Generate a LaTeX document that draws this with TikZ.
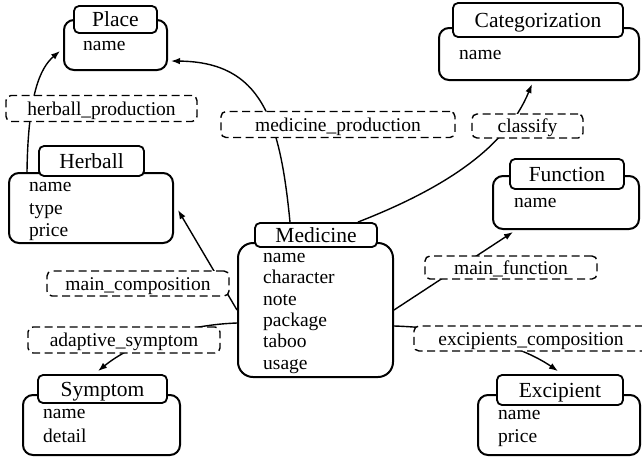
\documentclass[tikz,border=0pt]{standalone}
\usepackage{fontspec}
\setmainfont{Liberation Serif}
\usetikzlibrary{arrows.meta,calc}
\begin{document}
\begin{tikzpicture}[x=1pt,y=-1pt,
  entbody/.style={draw, line width=2pt, rounded corners=10pt, fill=white, inner sep=0pt},
  enttitle/.style={draw, line width=1.8pt, rounded corners=5pt, fill=white, inner sep=0pt,
    text height=14.7pt, text depth=0pt, font=\fontsize{21.5}{24}\selectfont},
  % anchored at the baseline of the last attribute line
  attrs/.style={anchor=base west, inner sep=0pt, align=left},
  relbox/.style={draw, dash pattern=on 8pt off 4.5pt, line width=1.4pt, rounded corners=5pt,
    fill=white, inner sep=0pt, minimum height=26pt, text height=13.3pt, text depth=0pt,
    font=\fontsize{19.5}{21}\selectfont},
  link/.style={line width=1.4pt},
  arr/.style={link, -{Latex[length=9pt,width=6.5pt]}}
]
\useasboundingbox (0,0) rectangle (642,461);

% ---- entities: body, title tab, attribute list ----
% Place
\node[entbody, minimum width=103pt, minimum height=50pt] (placeB) at (115.5,45) {};
\node[enttitle, minimum width=83pt, minimum height=27pt] (placeT) at (115.5,19.5) {Place};
\node[attrs, font=\fontsize{19.5}{22.5}\selectfont] (placeA) at (83,50.5) {name};

% Herball
\node[entbody, minimum width=164pt, minimum height=70pt] (herB) at (91,208) {};
\node[enttitle, minimum width=105pt, minimum height=30pt] (herT) at (91.5,161) {Herball};
\node[attrs, font=\fontsize{19.5}{22.5}\selectfont] (herA) at (29,236.5) {name\\type\\price};

% Categorization
\node[entbody, minimum width=200pt, minimum height=52pt] (catB) at (539,54) {};
\node[enttitle, minimum width=170pt, minimum height=34pt] (catT) at (538,20) {Categorization};
\node[attrs, font=\fontsize{19.5}{22.5}\selectfont] (catA) at (459,59.5) {name};

% Function
\node[entbody, minimum width=146pt, minimum height=53pt] (funB) at (566,202.5) {};
\node[enttitle, minimum width=114pt, minimum height=30pt] (funT) at (567,174) {Function};
\node[attrs, font=\fontsize{19.5}{22.5}\selectfont] (funA) at (514,207.5) {name};

% Medicine
\node[entbody, rounded corners=15pt, minimum width=155pt, minimum height=134pt] (medB) at (315.5,310) {};
\node[enttitle, minimum width=122pt, minimum height=24pt] (medT) at (316,235) {Medicine};
\node[attrs, font=\fontsize{19.5}{21.3}\selectfont] (medA) at (263,369)
  {name\\character\\note\\package\\taboo\\usage};

% Symptom
\node[entbody, minimum width=157pt, minimum height=60pt] (symB) at (101.5,425) {};
\node[enttitle, minimum width=129pt, minimum height=28pt] (symT) at (102.5,389) {Symptom};
\node[attrs, font=\fontsize{19.5}{24}\selectfont] (symA) at (43,442.5) {name\\detail};

% Excipient
\node[entbody, minimum width=162pt, minimum height=60pt] (excB) at (559,425) {};
\node[enttitle, minimum width=126pt, minimum height=30pt] (excT) at (560,390) {Excipient};
\node[attrs, font=\fontsize{19.5}{23}\selectfont] (excA) at (498,442.5) {name\\price};

% ---- relationships ----
\draw[arr] ($(herB.north west)+(19,0)$) .. controls (28,95) and (40,68) .. ($(placeB.west)+(-3,6)$);
\draw[arr] ($(medT.north)+(-26,0)$) .. controls (280,120) and (262,62) .. ($(placeB.east)+(3,16)$);
\draw[arr] ($(medT.north east)+(-20,0)$) .. controls (440,190) and (505,150) .. ($(catB.south)+(-7,3)$);
\draw[arr] (medB.west) -- ($(herB.east)+(4,2)$);
\draw[arr] ($(medB.west)+(0,13)$) .. controls (180,325) and (130,345) .. ($(symT.north)+(-4.5,-3)$);
\draw[arr] (medB.east) -- ($(funB.south)+(-53,2)$);
\draw[arr] ($(medB.east)+(0,16)$) .. controls (460,328) and (520,345) .. ($(excT.north)+(-2,-3)$);

% relationship labels
\node[relbox, minimum width=191pt] (rHP) at (101.5,108.5) {herball\_production};
\node[relbox, minimum width=234pt] (rMP) at (338,124.5) {medicine\_production};
\node[relbox, minimum width=111pt, minimum height=24pt] (rCL) at (527.5,126) {classify};
\node[relbox, minimum width=182pt, minimum height=25pt] (rMC) at (138,283.5) {main\_composition};
\node[relbox, minimum width=192pt] (rAS) at (124,340) {adaptive\_symptom};
\node[relbox, minimum width=172pt, minimum height=23pt] (rMF) at (511,267.5) {main\_function};
\node[relbox, minimum width=234pt, minimum height=25pt] (rEC) at (531,338.5) {excipients\_composition};
\end{tikzpicture}
\end{document}
